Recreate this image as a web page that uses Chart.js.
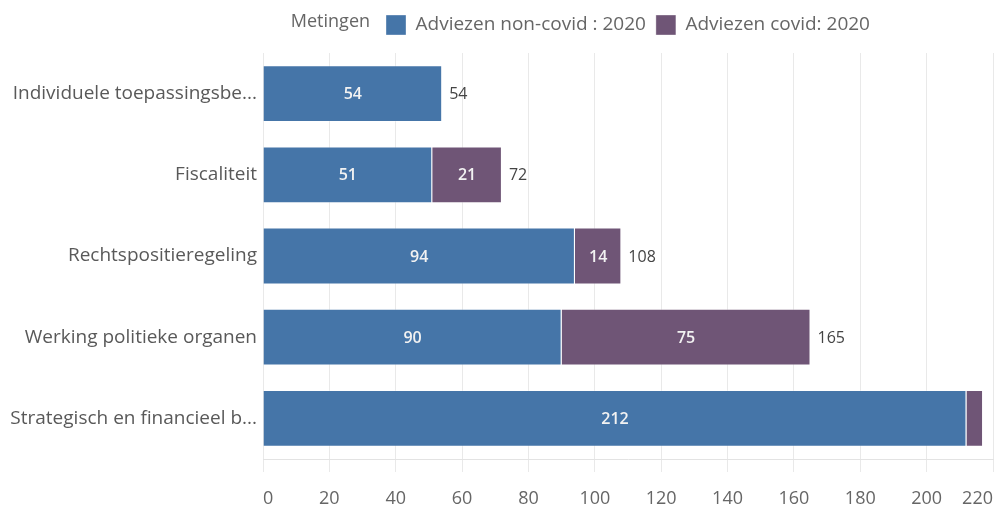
<!DOCTYPE html>
<html>
<head>
<meta charset="utf-8">
<script src="https://cdn.jsdelivr.net/npm/chart.js@4.4.1/dist/chart.umd.min.js"></script>
<style>
  html, body { margin: 0; padding: 0; background: #fff; }
  #wrap { width: 997px; height: 512px; }
</style>
</head>
<body>
<div id="wrap"><canvas id="chart"></canvas></div>
<script>
const categories = [
  "Individuele toepassingsbe...",
  "Fiscaliteit",
  "Rechtspositieregeling",
  "Werking politieke organen",
  "Strategisch en financieel b..."
];
const nonCovid = [54, 51, 94, 90, 212];
const covid = [0, 21, 14, 75, 5];
const seriesNames = ["Adviezen non-covid : 2020", "Adviezen covid: 2020"];
const legendTitle = "Metingen";
const xMax = 220;
const xStep = 20;

const FONT = '"Open Sans", sans-serif';
const blue = "#4575a8";
const purple = "#6f5576";

// labels inside segments + totals at the end of each bar
const barLabels = {
  id: "barLabels",
  afterDatasetsDraw(chart) {
    const ctx = chart.ctx;
    ctx.save();
    ctx.textBaseline = "middle";
    ctx.font = "600 16px " + FONT;
    chart.data.datasets.forEach((ds, i) => {
      const meta = chart.getDatasetMeta(i);
      meta.data.forEach((bar, j) => {
        const v = ds.data[j];
        const w = Math.abs(bar.x - bar.base);
        if (!v || w < 30) return;
        ctx.fillStyle = "#f2f2f2";
        ctx.textAlign = "center";
        ctx.fillText(v, (bar.x + bar.base) / 2, bar.y + 1);
      });
    });
    ctx.font = "16px " + FONT;
    categories.forEach((c, j) => {
      const total = nonCovid[j] + covid[j];
      const x = chart.scales.x.getPixelForValue(total) + 7;
      const y = chart.scales.y.getPixelForValue(j);
      const tw = ctx.measureText(total).width;
      if (x + tw > chart.width) return;
      ctx.fillStyle = "#444444";
      ctx.textAlign = "left";
      ctx.fillText(total, x, y + 1);
    });
    ctx.restore();
  },
  afterDraw(chart) {
    // "Metingen" in front of the legend items
    const boxes = chart.legend.legendHitBoxes;
    if (!boxes || !boxes.length) return;
    const ctx = chart.ctx;
    ctx.save();
    ctx.font = "18px " + FONT;
    ctx.fillStyle = "#666666";
    ctx.textAlign = "right";
    ctx.textBaseline = "middle";
    ctx.fillText(legendTitle, boxes[0].left - 16, boxes[0].top + boxes[0].height / 2 - 3);
    ctx.restore();
  }
};

new Chart(document.getElementById("chart"), {
  type: "bar",
  data: {
    labels: categories,
    datasets: [
      { label: seriesNames[0], data: nonCovid, backgroundColor: blue },
      { label: seriesNames[1], data: covid, backgroundColor: purple }
    ]
  },
  options: {
    indexAxis: "y",
    responsive: true,
    maintainAspectRatio: false,
    animation: false,
    layout: { padding: { left: 8, right: 4, top: 5, bottom: 0 } },
    datasets: {
      bar: {
        categoryPercentage: 1,
        barPercentage: 0.7,
        borderWidth: 1,
        borderColor: "rgba(255,255,255,0.35)"
      }
    },
    scales: {
      x: {
        stacked: true,
        min: 0,
        max: xMax,
        ticks: {
          stepSize: xStep,
          align: "inner",
          color: "#666666",
          padding: 16,
          font: { family: FONT, size: 18 }
        },
        grid: { color: "#e9e9e9", tickLength: 13 },
        border: { color: "#e3e3e3" },
        afterFit(scale) {
          scale.height = 53;
          scale.paddingLeft = 0;
          scale.paddingRight = 0;
        }
      },
      y: {
        stacked: true,
        ticks: {
          color: "#595959",
          padding: 6,
          font: { family: FONT, size: 19 }
        },
        grid: { display: false, drawTicks: false },
        border: { display: false },
        afterFit(scale) { scale.width = 255; }
      }
    },
    plugins: {
      legend: {
        position: "top",
        fullSize: false,
        labels: {
          boxWidth: 20,
          boxHeight: 20,
          padding: 10,
          color: "#666666",
          font: { family: FONT, size: 19 }
        }
      },
      // empty spacer between legend and plot
      subtitle: {
        display: true,
        text: "",
        weight: 500,
        padding: 0,
        font: { size: 8, lineHeight: 1 }
      },
      tooltip: { enabled: false }
    }
  },
  plugins: [barLabels]
});
</script>
</body>
</html>
